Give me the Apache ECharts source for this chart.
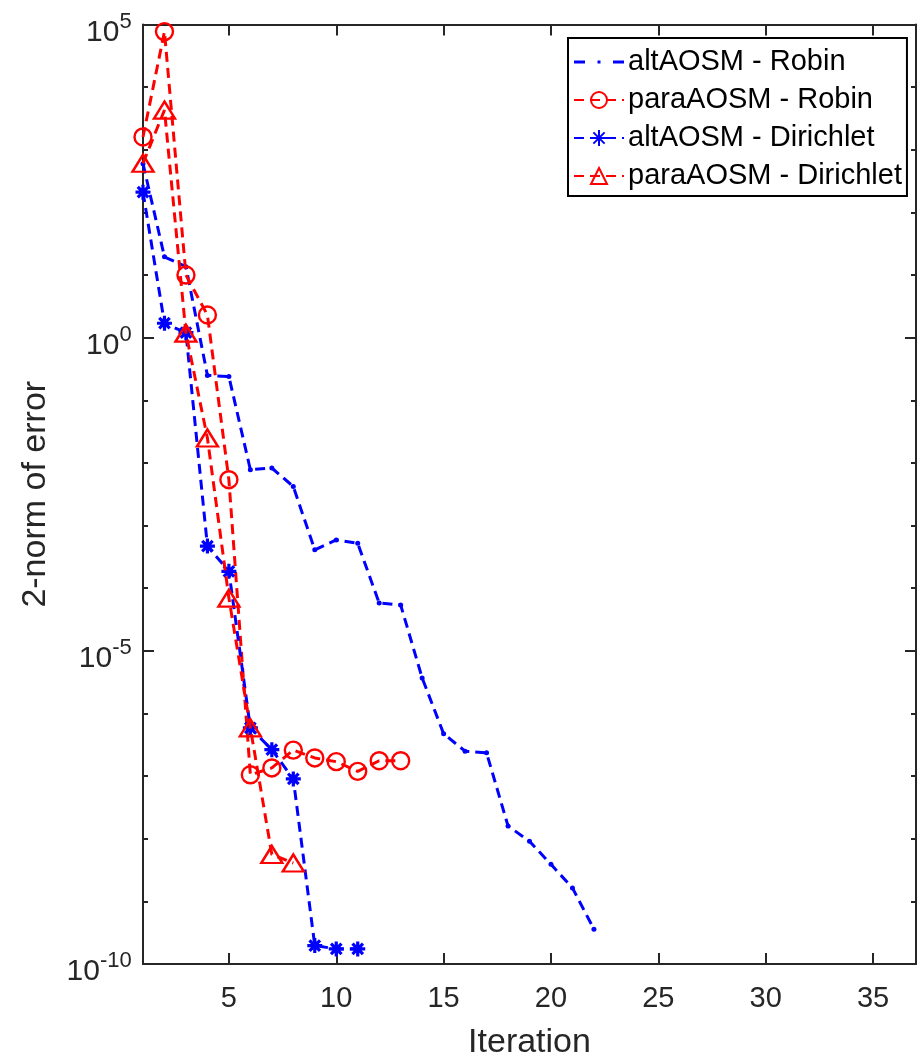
<!DOCTYPE html>
<html>
<head>
<meta charset="utf-8">
<script src="https://cdn.jsdelivr.net/npm/echarts@6/dist/echarts.min.js"></script>
<style>
html,body{margin:0;padding:0;background:#fff;}
#chart{width:918px;height:1058px;}
</style>
</head>
<body>
<div id="chart"></div>
<script>
// ---- data ----
const seriesNames = ['altAOSM - Robin', 'paraAOSM - Robin', 'altAOSM - Dirichlet', 'paraAOSM - Dirichlet'];

const altRobinIter = [1, 2, 3, 4, 5, 6, 7, 8, 9, 10, 11, 12, 13, 14, 15, 16, 17, 18, 19, 20, 21, 22];
const altRobinErr = [6.0e2, 1.95e1, 1.36e1, 2.5e-1, 2.4e-1, 7.8e-3, 8.3e-3, 4.2e-3, 4.1e-4, 5.9e-4, 5.2e-4,
                     5.8e-5, 5.4e-5, 3.7e-6, 4.75e-7, 2.5e-7, 2.35e-7, 1.6e-8, 9.1e-9, 3.9e-9, 1.64e-9, 3.6e-10];

const paraRobinIter = [1, 2, 3, 4, 5, 6, 7, 8, 9, 10, 11, 12, 13];
const paraRobinErr = [1.6e3, 7.7e4, 1.0e1, 2.3, 5.4e-3, 1.05e-7, 1.35e-7, 2.6e-7, 1.95e-7, 1.7e-7, 1.19e-7, 1.76e-7, 1.76e-7];

const altDirIter = [1, 2, 3, 4, 5, 6, 7, 8, 9, 10, 11];
const altDirErr = [2.1e2, 1.7, 1.2, 4.7e-4, 1.86e-4, 5.9e-7, 2.64e-7, 9.0e-8, 1.97e-10, 1.74e-10, 1.74e-10];

const paraDirIter = [1, 2, 3, 4, 5, 6, 7, 8];
const paraDirErr = [6.1e2, 4.3e3, 1.18, 2.5e-2, 6.95e-5, 5.9e-7, 5.6e-9, 4.1e-9];

const xTickValues = [5, 10, 15, 20, 25, 30, 35];
const xRange = [1, 37];
const yRange = [1e-10, 1e5];
const xTitle = 'Iteration';
const yTitle = '2-norm of error';

// ---- chart ----
const FONT = '"Liberation Sans", Arial, Helvetica, sans-serif';
const AX = '#262626';
const BLUE = '#0000ff';
const RED = '#ff0000';
const DASH = [10, 6];
const LW = 3;
const ASTERISK = 'path://M10,0L10,20M0,10L20,10M3,3L17,17M3,17L17,3';
// legend glyph for the marker-less dashed line: dash, dot, dash in a 50x20 box
const DASH_DOT_ICON = 'path://M0,0L0,0M50,20L50,20M0,8.6L11,8.6L11,11.4L0,11.4ZM23.5,8.5L26.5,8.5L26.5,11.5L23.5,11.5ZM39,8.6L50,8.6L50,11.4L39,11.4Z';

function pairs(xs, ys) { return xs.map((x, i) => [x, ys[i]]); }

const chart = echarts.init(document.getElementById('chart'), null, {renderer: 'canvas'});

const xBase = {
  type: 'value', min: xRange[0], max: xRange[1],
  splitLine: {show: false},
  axisLine: {onZero: false, lineStyle: {color: AX, width: 2}},
  axisTick: {inside: true, length: 11, customValues: xTickValues, lineStyle: {color: AX, width: 2}}
};

const yBase = {
  type: 'log', logBase: 10, min: yRange[0], max: yRange[1],
  splitLine: {show: false}, minorTick: {show: false},
  axisLine: {onZero: false, lineStyle: {color: AX, width: 2}}
};

function expLabel(v) {
  const e = Math.round(Math.log10(v));
  return '{b|10}{s|' + e + '}{z| }';
}

const option = {
  animation: false,
  backgroundColor: '#ffffff',
  textStyle: {fontFamily: FONT},
  grid: {left: 143, right: 2, top: 24.5, bottom: 94, containLabel: false, outerBoundsMode: 'none'},
  xAxis: [
    Object.assign({}, xBase, {
      position: 'bottom',
      axisLabel: {customValues: xTickValues, fontSize: 29, color: AX, margin: 20, fontFamily: FONT},
      name: xTitle, nameLocation: 'middle', nameGap: 62,
      nameTextStyle: {fontSize: 34, color: AX, fontFamily: FONT}
    }),
    Object.assign({}, xBase, {position: 'top', axisLabel: {show: false}})
  ],
  yAxis: [
    Object.assign({}, yBase, {
      position: 'left', interval: 5,
      axisTick: {inside: true, length: 11, lineStyle: {color: AX, width: 2}},
      axisLabel: {
        margin: 11, formatter: expLabel, padding: [9, 0, 0, 0],
        rich: {
          b: {fontSize: 30, lineHeight: 30, verticalAlign: 'bottom', color: AX, fontFamily: FONT},
          s: {fontSize: 22, lineHeight: 22, verticalAlign: 'top', color: AX, fontFamily: FONT},
          z: {fontSize: 1, lineHeight: 37}
        }
      },
      name: yTitle, nameLocation: 'middle', nameGap: 90,
      nameTextStyle: {fontSize: 34, color: AX, fontFamily: FONT}
    }),
    Object.assign({}, yBase, {
      position: 'left', interval: 1,
      axisLine: {show: false},
      axisTick: {inside: true, length: 5, lineStyle: {color: AX, width: 2}},
      axisLabel: {show: false}
    }),
    Object.assign({}, yBase, {
      position: 'right', interval: 5,
      axisTick: {inside: true, length: 11, lineStyle: {color: AX, width: 2}},
      axisLabel: {show: false}
    }),
    Object.assign({}, yBase, {
      position: 'right', interval: 1,
      axisLine: {show: false},
      axisTick: {inside: true, length: 5, lineStyle: {color: AX, width: 2}},
      axisLabel: {show: false}
    })
  ],
  legend: {
    show: true, orient: 'vertical', left: 568, top: 38,
    data: [
      {name: seriesNames[0], icon: DASH_DOT_ICON},
      {name: seriesNames[1]},
      {name: seriesNames[2]},
      {name: seriesNames[3]}
    ],
    backgroundColor: '#ffffff', borderColor: '#000000', borderWidth: 2,
    padding: [9, 5, 5, 5],
    itemWidth: 50, itemHeight: 20, itemGap: 8,
    textStyle: {fontSize: 29, lineHeight: 30, color: '#000000', fontFamily: FONT, padding: [0, 0, 0, -1]}
  },
  series: [
    {
      name: seriesNames[0], type: 'line', data: pairs(altRobinIter, altRobinErr),
      symbol: 'circle', symbolSize: 5, showAllSymbol: true,
      lineStyle: {color: BLUE, width: LW, type: DASH},
      itemStyle: {color: BLUE, borderWidth: 0},
      z: 2
    },
    {
      name: seriesNames[1], type: 'line', data: pairs(paraRobinIter, paraRobinErr),
      symbol: 'circle', symbolSize: 17, showAllSymbol: true,
      lineStyle: {color: RED, width: LW, type: DASH},
      itemStyle: {color: 'rgba(0,0,0,0)', borderColor: RED, borderWidth: 2.4},
      z: 3
    },
    {
      name: seriesNames[2], type: 'line', data: pairs(altDirIter, altDirErr),
      symbol: ASTERISK, symbolSize: 15, showAllSymbol: true,
      lineStyle: {color: BLUE, width: LW, type: DASH},
      itemStyle: {color: 'rgba(0,0,0,0)', borderColor: BLUE, borderWidth: 3.2},
      z: 4
    },
    {
      name: seriesNames[3], type: 'line', data: pairs(paraDirIter, paraDirErr),
      symbol: 'triangle', symbolSize: [21, 17], showAllSymbol: true,
      lineStyle: {color: RED, width: LW, type: DASH},
      itemStyle: {color: 'rgba(0,0,0,0)', borderColor: RED, borderWidth: 2.4},
      z: 5
    }
  ]
};
chart.setOption(option);
</script>
</body>
</html>
